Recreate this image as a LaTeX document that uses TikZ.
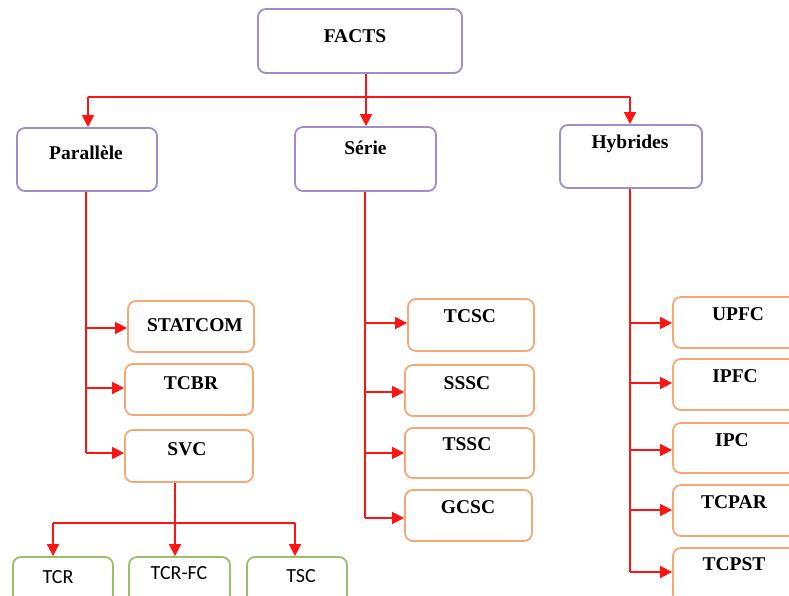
\documentclass[tikz,border=0pt]{standalone}
\usepackage{fontspec}
\setmainfont{Liberation Serif}
\newfontfamily\subfont{Carlito}
\usetikzlibrary{arrows.meta}
\definecolor{purpleedge}{RGB}{160,140,200}
\definecolor{orangeedge}{RGB}{245,168,118}
\definecolor{greenedge}{RGB}{155,190,105}
\definecolor{linkred}{RGB}{255,20,20}
\tikzset{
  box/.style={draw, line width=1.8pt, rounded corners=8pt, fill=white, inner sep=0pt},
  topbox/.style={box, draw=purpleedge},
  devbox/.style={box, draw=orangeedge},
  subbox/.style={box, draw=greenedge},
  lbl/.style={anchor=base, inner sep=0pt, font=\fontsize{19.5}{22}\selectfont\bfseries},
  sublbl/.style={anchor=base, inner sep=0pt, font=\fontsize{20}{22}\selectfont\subfont},
  link/.style={draw=linkred, line width=1.6pt},
  arr/.style={link, -{Triangle[length=12pt,width=12pt]}},
}
% rectangle from top-left corner (#2,#3) to bottom-right corner (#4,#5)
\newcommand{\boxat}[6]{%
  \node[#1, minimum width=#4pt-#2pt, minimum height=#5pt-#3pt] (#6) at ({(#2+#4)/2},{(#3+#5)/2}) {};}
\begin{document}
\begin{tikzpicture}[x=1pt,y=-1pt]
\useasboundingbox (0,0) rectangle (789,596);

% first level
\boxat{topbox}{258}{9}{462}{73}{facts}
\boxat{topbox}{17}{128}{157}{191}{par}
\boxat{topbox}{295}{127}{436}{191}{ser}
\boxat{topbox}{560}{125}{702}{188}{hyb}
\node[lbl] (factsT) at (355,43) {FACTS};
\node[lbl] (parT) at (86,160) {Parallèle};
\node[lbl] (serT) at (365.5,155) {Série};
\node[lbl] (hybT) at (630,149) {Hybrides};

% shunt devices
\boxat{devbox}{128}{301}{254}{352}{statcom}
\boxat{devbox}{125}{364}{253}{415}{tcbr}
\boxat{devbox}{125}{430}{253}{482}{svc}
\node[lbl] (statcomT) at (195,331) {STATCOM};
\node[lbl] (tcbrT) at (191,389) {TCBR};
\node[lbl] (svcT) at (187,455) {SVC};

% series devices
\boxat{devbox}{408}{299}{534}{351}{tcsc}
\boxat{devbox}{405}{365}{534}{416}{sssc}
\boxat{devbox}{405}{428}{534}{478}{tssc}
\boxat{devbox}{405}{490}{532}{541}{gcsc}
\node[lbl] (tcscT) at (470,322) {TCSC};
\node[lbl] (ssscT) at (467,389) {SSSC};
\node[lbl] (tsscT) at (467,450) {TSSC};
\node[lbl] (gcscT) at (468,513) {GCSC};

% hybrid devices
\boxat{devbox}{673}{297}{805}{348}{upfc}
\boxat{devbox}{673}{359}{805}{410}{ipfc}
\boxat{devbox}{673}{423}{805}{473}{ipc}
\boxat{devbox}{673}{485}{805}{536}{tcpar}
\boxat{devbox}{673}{548}{805}{602}{tcpst}
\node[lbl] (upfcT) at (738,320) {UPFC};
\node[lbl] (ipfcT) at (735,382) {IPFC};
\node[lbl] (ipcT) at (732,446) {IPC};
\node[lbl] (tcparT) at (734,508) {TCPAR};
\node[lbl] (tcpstT) at (734,570) {TCPST};

% SVC variants
\boxat{subbox}{13}{557}{113}{610}{tcr}
\boxat{subbox}{129}{557}{230}{610}{tcrfc}
\boxat{subbox}{247}{557}{347}{610}{tsc}
\node[sublbl] (tcrT) at (58,583) {TCR};
\node[sublbl] (tcrfcT) at (179,579) {TCR-FC};
\node[sublbl] (tscT) at (301,582) {TSC};

% connectors: top level
\coordinate (bus) at (366,97);
\draw[link] (facts.south -| bus) -- (bus);
\draw[link] (88,97) -- (630,97);
\draw[arr] (bus) -- (ser.north -| bus);
\draw[arr] (88,97) -- (par.north -| 88,0);
\draw[arr] (630,97) -- (hyb.north -| 630,0);

% connectors: shunt branch
\draw[link] (par.south -| 86,0) -- (86,453);
\draw[arr] (86,328) -- (statcom.west |- 0,328);
\draw[arr] (86,388) -- (tcbr.west |- 0,388);
\draw[arr] (86,453) -- (svc.west |- 0,453);

% connectors: series branch
\draw[link] (ser.south -| 365,0) -- (365,518);
\draw[arr] (365,323) -- (tcsc.west |- 0,323);
\draw[arr] (365,392) -- (sssc.west |- 0,392);
\draw[arr] (365,453) -- (tssc.west |- 0,453);
\draw[arr] (365,518) -- (gcsc.west |- 0,518);

% connectors: hybrid branch
\draw[link] (hyb.south -| 630,0) -- (630,572);
\draw[arr] (630,323) -- (upfc.west |- 0,323);
\draw[arr] (630,383) -- (ipfc.west |- 0,383);
\draw[arr] (630,450) -- (ipc.west |- 0,450);
\draw[arr] (630,510) -- (tcpar.west |- 0,510);
\draw[arr] (630,572) -- (tcpst.west |- 0,572);

% connectors: SVC variants
\draw[link] (svc.south -| 175,0) -- (175,523);
\draw[link] (53,523) -- (295,523);
\draw[arr] (175,523) -- (tcrfc.north -| 175,0);
\draw[arr] (53,523) -- (tcr.north -| 53,0);
\draw[arr] (295,523) -- (tsc.north -| 295,0);
\end{tikzpicture}
\end{document}
